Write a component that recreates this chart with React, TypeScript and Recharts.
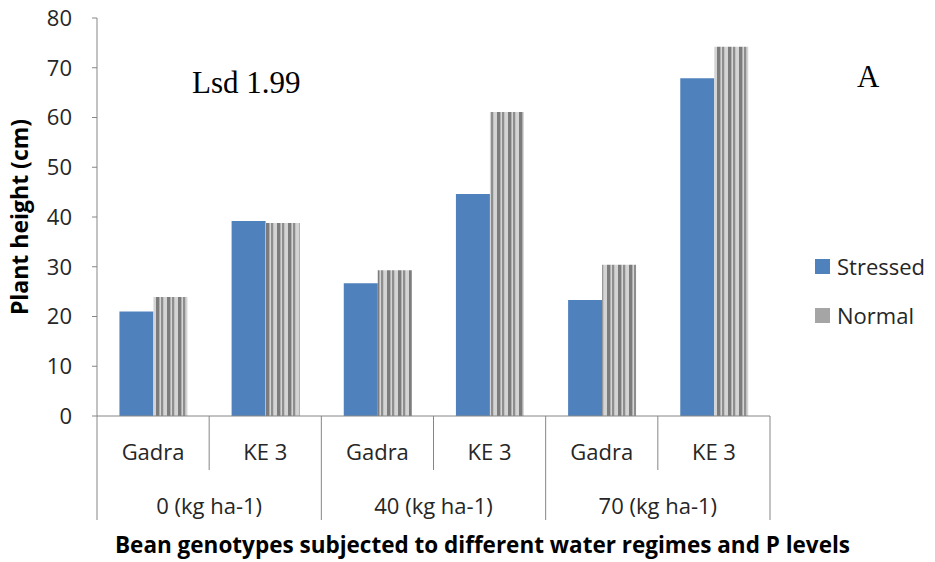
import React from 'react';
import { BarChart, Bar, XAxis, YAxis } from 'recharts';

// Plant height (cm) per genotype and P level
const genotypes = ['Gadra', 'KE 3', 'Gadra', 'KE 3', 'Gadra', 'KE 3'];
const pLevels = ['0 (kg ha-1)', '40 (kg ha-1)', '70 (kg ha-1)'];
const stressed = [21, 39.2, 26.7, 44.6, 23.3, 67.9];
const normal = [23.9, 38.8, 29.3, 61.1, 30.4, 74.2];
const yTicks = [0, 10, 20, 30, 40, 50, 60, 70, 80];

const data = genotypes.map((g, i) => ({
  name: g,
  level: pLevels[Math.floor(i / 2)],
  stressed: stressed[i],
  normal: normal[i],
}));

const W = 935;
const H = 562;
const MARGIN = { top: 18, right: 165, left: 0, bottom: 0 };
const Y_AXIS_W = 97;
const BAND = (W - MARGIN.right - Y_AXIS_W) / genotypes.length;
const FONT = '"Open Sans", sans-serif';
const SERIF = '"Liberation Serif", serif';
const AXIS_GRAY = '#868686';
const TEXT = '#262626';

// two-level category axis: genotype row, then P level row with long dividers
const GroupedTick = (props: any) => {
  const { x, y, payload, index } = props;
  const left = x - BAND / 2;
  const groupEdge = index % 2 === 0;
  return (
    <g>
      <line x1={left} y1={y} x2={left} y2={y + (groupEdge ? 104 : 54)} stroke={AXIS_GRAY} />
      {index === genotypes.length - 1 && (
        <line x1={x + BAND / 2} y1={y} x2={x + BAND / 2} y2={y + 104} stroke={AXIS_GRAY} />
      )}
      <text x={x} y={y + 44} textAnchor="middle" fontSize={22} fill={TEXT} fontFamily={FONT}>
        {payload.value}
      </text>
      {!groupEdge && (
        <text x={left} y={y + 98} textAnchor="middle" fontSize={22} fill={TEXT} fontFamily={FONT}>
          {data[index].level}
        </text>
      )}
    </g>
  );
};

const legendItems = [
  { label: 'Stressed', color: '#4f81bd' },
  { label: 'Normal', color: '#a5a5a5' },
];

export default function App() {
  return (
    <div style={{ position: 'absolute', left: 0, top: 0, width: W, height: H, background: '#fff' }}>
      <BarChart width={W} height={H} data={data} margin={MARGIN} barGap={0} barCategoryGap="20%">
        <defs>
          <pattern id="vstripes" patternUnits="userSpaceOnUse" width="11" height="8">
            <rect x="0" y="0" width="11" height="8" fill="#d4d4d4" />
            <rect x="2" y="0" width="3" height="8" fill="#7c7c7c" />
            <rect x="5" y="0" width="1" height="8" fill="#b0b0b0" />
            <rect x="7" y="0" width="2" height="8" fill="#8e8e8e" />
            <rect x="9" y="0" width="1" height="8" fill="#c2c2c2" />
          </pattern>
        </defs>
        <XAxis
          dataKey="name"
          height={146}
          interval={0}
          tickSize={0}
          tickMargin={0}
          tickLine={false}
          stroke={AXIS_GRAY}
          tick={<GroupedTick />}
          label={{
            value: 'Bean genotypes subjected to different water regimes and P levels',
            position: 'insideBottom',
            offset: 9,
            dx: 49,
            fontSize: 22.5,
            fontWeight: 'bold',
            fill: '#000',
            fontFamily: FONT,
          }}
        />
        <YAxis
          width={Y_AXIS_W}
          domain={[0, 80]}
          ticks={yTicks}
          interval={0}
          tickSize={5}
          tickMargin={20}
          stroke={AXIS_GRAY}
          tick={{ fontSize: 22, fill: TEXT, fontFamily: FONT }}
          label={{
            value: 'Plant height (cm)',
            angle: -90,
            position: 'insideLeft',
            offset: 20,
            fontSize: 23,
            fontWeight: 'bold',
            fill: '#000',
            fontFamily: FONT,
            style: { textAnchor: 'middle' },
          }}
        />
        <Bar dataKey="stressed" name="Stressed" fill="#4f81bd" isAnimationActive={false} />
        <Bar dataKey="normal" name="Normal" fill="url(#vstripes)" isAnimationActive={false} />
      </BarChart>
      <div style={{ position: 'absolute', left: 815, top: 251, fontFamily: FONT, fontSize: 22, color: TEXT }}>
        {legendItems.map((item, i) => (
          <div
            key={item.label}
            style={{ display: 'flex', alignItems: 'center', height: 30, marginTop: i ? 19 : 0, lineHeight: '30px' }}
          >
            <span style={{ width: 15, height: 15, background: item.color, marginRight: 7, display: 'inline-block' }} />
            {item.label}
          </div>
        ))}
      </div>
      <div style={{ position: 'absolute', left: 192, top: 67, fontFamily: SERIF, fontSize: 31, lineHeight: 1 }}>
        Lsd 1.99
      </div>
      <div style={{ position: 'absolute', left: 857, top: 61, fontFamily: SERIF, fontSize: 31, lineHeight: 1 }}>
        A
      </div>
    </div>
  );
}
